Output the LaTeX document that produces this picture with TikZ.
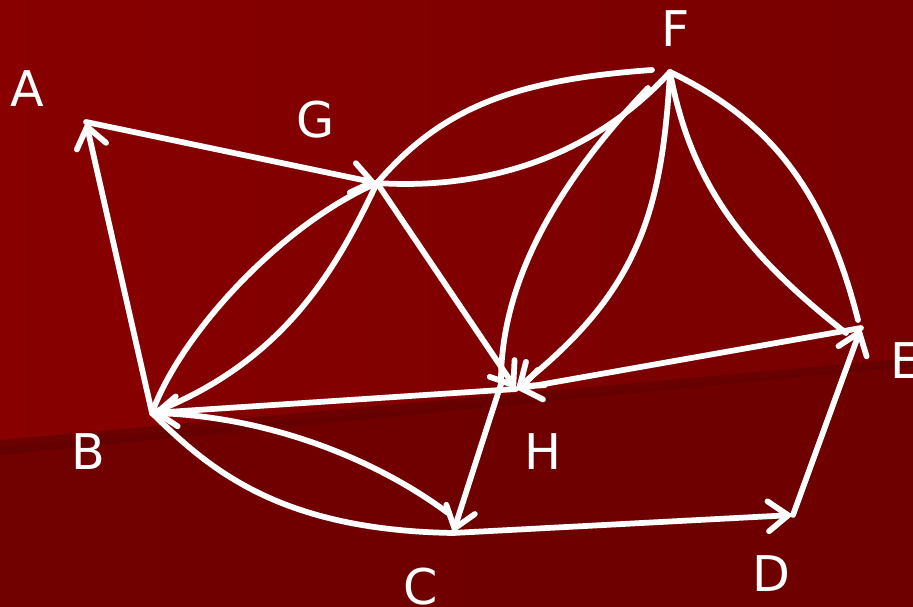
\documentclass[tikz,border=0pt]{standalone}
\usepackage{fontspec}
\newfontfamily\labfont{DejaVu Sans}
\usetikzlibrary{arrows.meta}
\definecolor{bgTL}{RGB}{136,0,0}
\definecolor{bgTR}{RGB}{120,0,0}
\definecolor{bgBL}{RGB}{113,0,0}
\definecolor{bgBR}{RGB}{110,0,0}
\definecolor{bandc}{RGB}{96,0,0}
\tikzset{
  edge/.style={draw=white, line width=0.115cm, line cap=round, line join=round},
  arr/.style={edge, -{Straight Barb[length=0.4cm, width=0.6cm, line cap=round]}},
  lab/.style={text=white, font=\labfont\fontsize{28}{32}\selectfont, inner sep=0pt}
}
\begin{document}
\begin{tikzpicture}[x=0.02cm, y=-0.02cm]
\useasboundingbox (0,0) rectangle (913,607);
% background
\shade[left color=bgTL, right color=bgTR] (0,0) rectangle (913,607);
\shade[left color=bgBL, right color=bgBR] (0,447) -- (913,364) -- (913,607) -- (0,607) -- cycle;
\fill[bandc, opacity=0.7] (0,440) -- (913,358) -- (913,366) -- (0,455) -- cycle;
% vertices
\coordinate (A) at (86,122);
\coordinate (G) at (377,183);
\coordinate (F) at (670,72);
\coordinate (B) at (152,413);
\coordinate (H) at (516,389);
\coordinate (C) at (453,533);
\coordinate (D) at (793,515);
\coordinate (E) at (861,328);
\coordinate (Fa) at (652,70);
\coordinate (Fb) at (648,88);
\coordinate (Hl) at (501,384);
\coordinate (Ea) at (846,333);
\coordinate (Eb) at (858,320);
\coordinate (Ca) at (448,513);
% labels
\node[lab] (lA) at (27,89) {A};
\node[lab] (lG) at (316,120) {G};
\node[lab] (lF) at (676,29) {F};
\node[lab] (lB) at (88,452) {B};
\node[lab] (lH) at (543,452) {H};
\node[lab] (lC) at (421,587) {C};
\node[lab] (lD) at (771,574) {D};
\node[lab] (lE) at (906,361) {E};
% straight connectors
\draw[arr] (B) -- (A);
\draw[arr] (A) -- (G);
\draw[arr] (G) -- (H);
\draw[arr] (E) -- (H);
\draw[arr] (H) -- (B);
\draw[arr] (Hl) -- (C);
\draw[arr] (C) -- (D);
\draw[arr] (D) -- (E);
% curved connectors
\draw[edge] (B) .. controls (180,335) and (280,225) .. (G);
\draw[edge] (G) .. controls (340,260) and (290,360) .. (B);
\draw[edge] (G) .. controls (440,110) and (510,80) .. (Fa);
\draw[edge] (G) .. controls (480,190) and (590,160) .. (F);
\draw[edge] (Fb) .. controls (560,180) and (500,280) .. (Hl);
\draw[arr] (F) .. controls (662,210) and (640,290) .. (H);
\draw[edge] (F) .. controls (690,180) and (740,250) .. (Ea);
\draw[edge] (F) .. controls (770,120) and (825,190) .. (Eb);
\draw[edge] (B) .. controls (260,415) and (370,455) .. (Ca);
\draw[edge] (B) .. controls (210,470) and (280,530) .. (C);
\end{tikzpicture}
\end{document}
